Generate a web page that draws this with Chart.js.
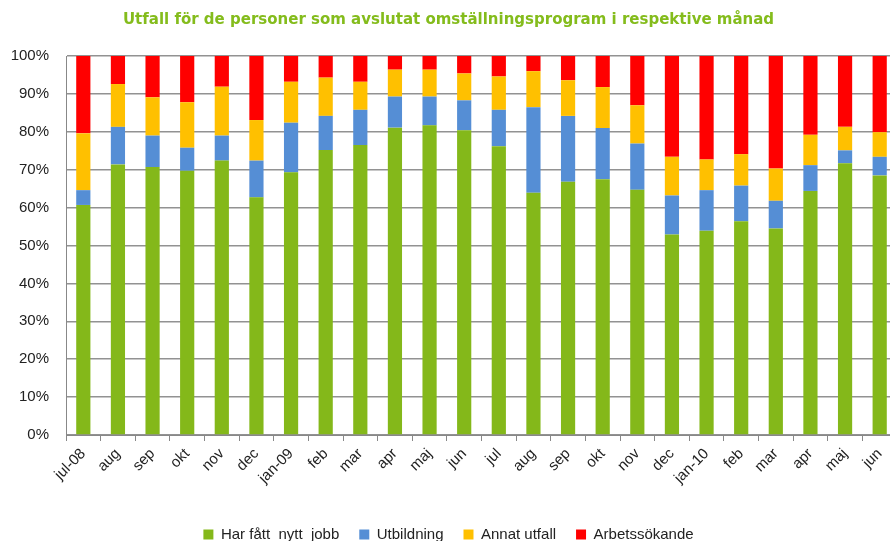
<!DOCTYPE html>
<html>
<head>
<meta charset="utf-8">
<script src="https://cdn.jsdelivr.net/npm/chart.js@4/dist/chart.umd.min.js"></script>
<style>
  html, body { margin: 0; padding: 0; background: #fff; overflow: hidden; }
  #wrap { width: 890px; height: 541px; overflow: hidden; position: relative; }
</style>
</head>
<body>
<div id="wrap"><canvas id="chart" width="900" height="552"></canvas></div>
<script>
// Months (jul-08 .. jun-10)
const months = ['jul-08', 'aug', 'sep', 'okt', 'nov', 'dec', 'jan-09', 'feb', 'mar', 'apr', 'maj', 'jun',
  'jul', 'aug', 'sep', 'okt', 'nov', 'dec', 'jan-10', 'feb', 'mar', 'apr', 'maj', 'jun'];

// Share of participants per outcome, percent
const nyttJobb = [60.7, 71.4, 70.7, 69.7, 72.4, 62.7, 69.3, 75.2, 76.5, 81.1, 81.7, 80.4,
  76.2, 63.9, 66.8, 67.5, 64.7, 52.9, 53.9, 56.4, 54.5, 64.4, 71.7, 68.5];
const utbildning = [3.9, 9.9, 8.3, 6.1, 6.6, 9.7, 13.1, 9.0, 9.3, 8.2, 7.6, 7.9,
  9.6, 22.6, 17.4, 13.5, 12.2, 10.3, 10.7, 9.4, 7.3, 6.8, 3.4, 4.9];
const annatUtfall = [15.0, 11.3, 10.1, 12.0, 12.9, 10.7, 10.8, 10.1, 7.4, 7.1, 7.1, 7.1,
  8.8, 9.5, 9.4, 10.8, 10.1, 10.2, 8.1, 8.3, 8.5, 8.0, 6.2, 6.5];
const arbetssokande = [20.4, 7.4, 10.9, 12.2, 8.1, 16.9, 6.8, 5.7, 6.8, 3.6, 3.6, 4.6,
  5.4, 4.0, 6.4, 8.2, 13.0, 26.6, 27.3, 25.9, 29.7, 20.8, 18.7, 20.1];

const yTicks = [0, 10, 20, 30, 40, 50, 60, 70, 80, 90, 100];

function series(label, data, color) {
  return {
    label: label,
    data: data,
    backgroundColor: color,
    borderWidth: 0,
    barPercentage: 0.41,
    categoryPercentage: 1.0
  };
}

const ctx = document.getElementById('chart').getContext('2d');
new Chart(ctx, {
  type: 'bar',
  data: {
    labels: months,
    datasets: [
      series('Har fått  nytt  jobb', nyttJobb, '#84b81a'),
      series('Utbildning', utbildning, '#558ed5'),
      series('Annat utfall', annatUtfall, '#ffc000'),
      series('Arbetssökande', arbetssokande, '#ff0000')
    ]
  },
  options: {
    responsive: false,
    animation: false,
    layout: { padding: { left: 0, right: 3, top: 0, bottom: 0 } },
    plugins: {
      title: {
        display: true,
        text: 'Utfall för de personer som avslutat omställningsprogram i respektive månad',
        color: '#84bc1c',
        font: { family: 'DejaVu Sans', size: 15, weight: 'bold' },
        padding: { top: 11, bottom: 27 }
      },
      legend: {
        position: 'bottom',
        labels: {
          boxWidth: 10,
          boxHeight: 10,
          padding: 20,
          color: '#222',
          font: { family: 'Liberation Sans', size: 15 }
        }
      },
      tooltip: { enabled: false }
    },
    scales: {
      x: {
        stacked: true,
        offset: true,
        afterFit: s => { s.height = 72; },
        grid: {
          offset: true,
          drawOnChartArea: false,
          drawTicks: true,
          tickLength: 6,
          color: '#888'
        },
        border: { display: true, color: '#888', width: 1 },
        ticks: {
          minRotation: 45,
          maxRotation: 45,
          autoSkip: false,
          color: '#222',
          padding: 4,
          font: { family: 'Liberation Sans', size: 15 }
        }
      },
      y: {
        stacked: true,
        min: 0,
        max: 100,
        afterFit: s => { s.width = 66; },
        afterBuildTicks: s => { s.ticks = yTicks.map(v => ({ value: v })); },
        grid: {
          drawTicks: false,
          color: '#929292',
          lineWidth: 1.5
        },
        border: { display: true, color: '#888', width: 1 },
        ticks: {
          padding: 17,
          color: '#222',
          font: { family: 'Liberation Sans', size: 15 },
          callback: v => v + '%'
        }
      }
    }
  }
});
</script>
</body>
</html>
